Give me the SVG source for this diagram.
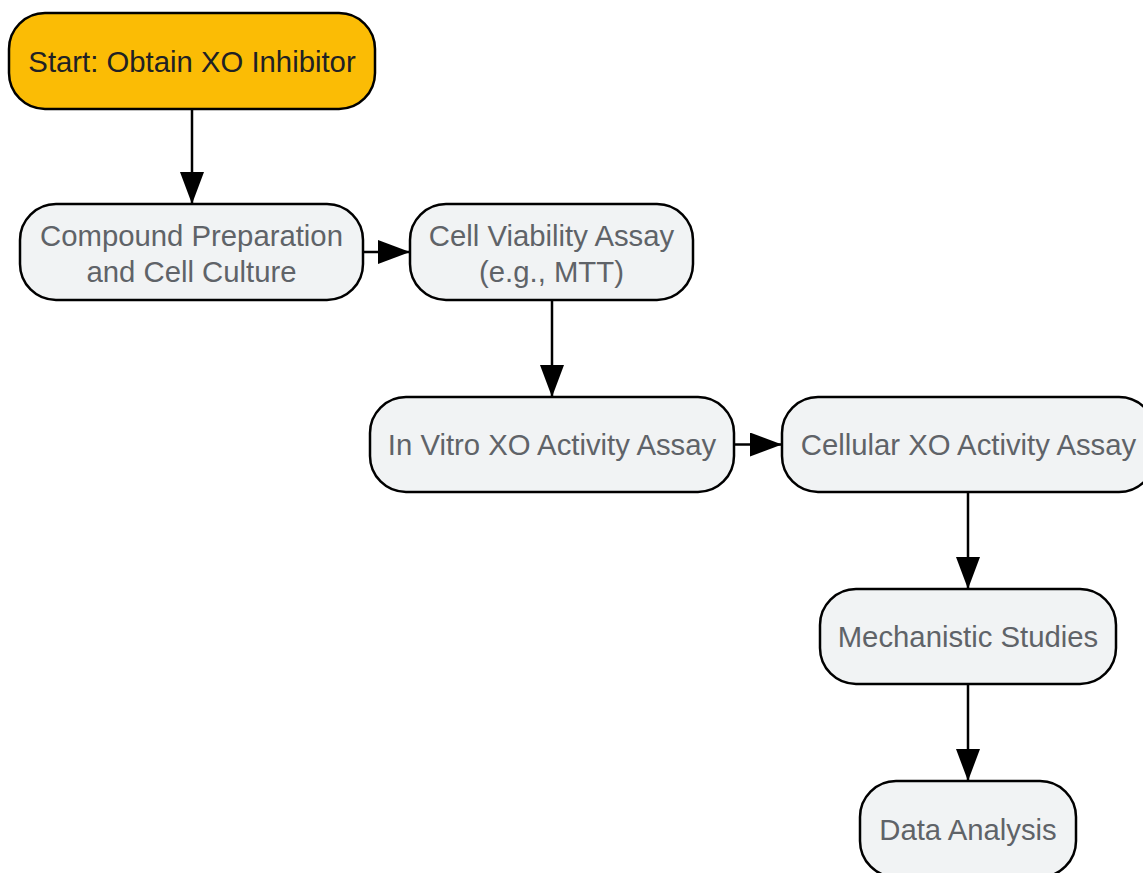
<svg xmlns="http://www.w3.org/2000/svg" width="1143" height="873" viewBox="0 0 1143 873">
<style>
.n rect{stroke:#000;stroke-width:2.5}
.p rect{fill:#F1F3F4}
.p text{fill:#5F6368}
text{font-family:"Liberation Sans",Arial,sans-serif;font-size:29.3px;text-anchor:middle;dominant-baseline:central}
.c line{stroke:#000;stroke-width:2.5;marker-end:url(#ah)}
</style>
<defs>
<marker id="ah" markerUnits="userSpaceOnUse" markerWidth="34" markerHeight="26" refX="32" refY="12" orient="auto">
<path d="M0,0 L32,12 L0,24 Z" fill="#000"/>
</marker>
</defs>
<rect width="1143" height="873" fill="#fff"/>
<g class="c">
<line x1="192" y1="109" x2="192" y2="204"/>
<line x1="363" y1="252" x2="410" y2="252"/>
<line x1="552" y1="300" x2="552" y2="397"/>
<line x1="734" y1="444.5" x2="782" y2="444.5"/>
<line x1="968" y1="492" x2="968" y2="589"/>
<line x1="968" y1="684" x2="968" y2="781"/>
</g>
<g id="start" class="n"><rect x="9" y="13" width="366" height="96" rx="36" fill="#FBBC05"/><text x="192" y="61" fill="#202124">Start: Obtain XO Inhibitor</text></g>
<g id="prep" class="n p"><rect x="20" y="204" width="343" height="96" rx="36"/><text x="191.5" y="235">Compound Preparation</text><text x="191.5" y="271">and Cell Culture</text></g>
<g id="viab" class="n p"><rect x="410" y="204" width="283" height="96" rx="36"/><text x="551.5" y="235">Cell Viability Assay</text><text x="551.5" y="271">(e.g., MTT)</text></g>
<g id="invitro" class="n p"><rect x="370" y="397" width="364" height="95" rx="36"/><text x="552" y="444.5">In Vitro XO Activity Assay</text></g>
<g id="cellular" class="n p"><rect x="782" y="397" width="373" height="95" rx="36"/><text x="968.5" y="444.5">Cellular XO Activity Assay</text></g>
<g id="mech" class="n p"><rect x="820" y="589" width="296" height="95" rx="36"/><text x="968" y="636.5">Mechanistic Studies</text></g>
<g id="data" class="n p"><rect x="860" y="781" width="216" height="96" rx="36"/><text x="968" y="829">Data Analysis</text></g>
</svg>
